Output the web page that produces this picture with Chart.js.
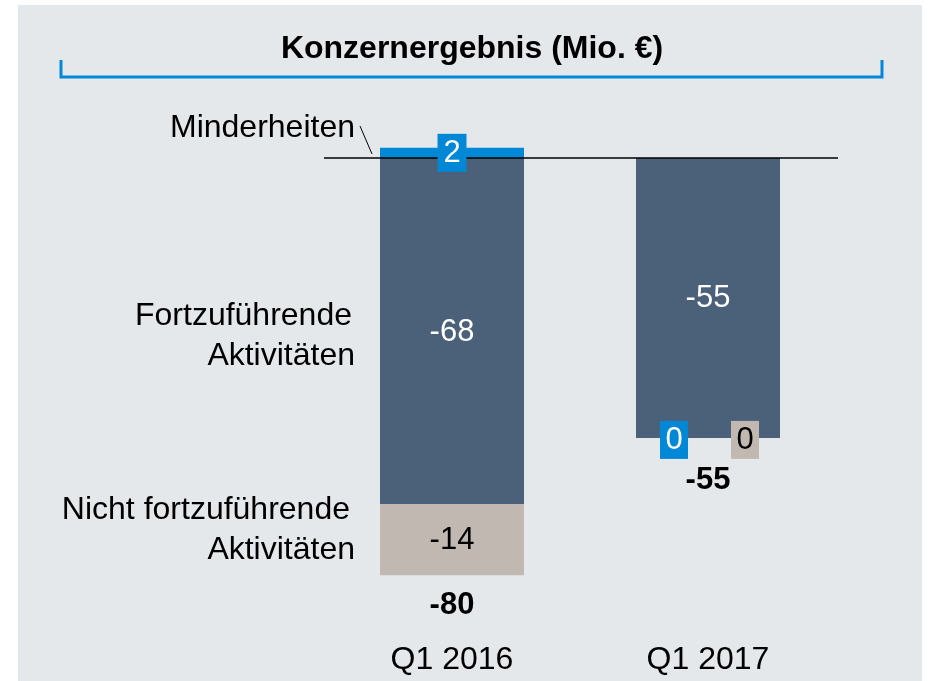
<!DOCTYPE html>
<html lang="de">
<head>
    <meta charset="UTF-8">
    <title>Konzernergebnis</title>
    <script src="https://cdn.jsdelivr.net/npm/chart.js"></script>
    <style>
        html, body { margin: 0; padding: 0; background: #ffffff; }
        #wrap { position: absolute; left: 0; top: 0; width: 930px; height: 681px; }
    </style>
</head>
<body>
    <div id="wrap"><canvas id="resultChart" width="930" height="681"></canvas></div>

    <script>
        const categories = ['Q1 2016', 'Q1 2017'];
        const minderheiten = [2, 0];
        const fortgefuehrt = [-68, -55];
        const nichtFortgefuehrt = [-14, 0];
        const totals = [-80, -55];

        const FONT = '"Liberation Sans", Arial, sans-serif';
        const colors = ['#0088d6', '#4b6079', '#c1b9b1'];

        // Labels, title and bracket drawn on top of the bars
        const annotations = {
            id: 'annotations',
            beforeDraw(chart) {
                const ctx = chart.ctx;
                ctx.save();
                ctx.fillStyle = '#ffffff';
                ctx.fillRect(0, 0, chart.width, chart.height);
                ctx.fillStyle = '#e4e8eb';
                ctx.fillRect(18, 5, 904, 676);
                ctx.restore();
            },
            afterDatasetsDraw(chart) {
                const ctx = chart.ctx;
                const y = chart.scales.y;
                const area = chart.chartArea;
                const zero = y.getPixelForValue(0);
                ctx.save();

                // title + bracket
                ctx.fillStyle = '#000';
                ctx.font = 'bold 32px ' + FONT;
                ctx.textAlign = 'center';
                ctx.textBaseline = 'middle';
                ctx.fillText('Konzernergebnis (Mio. €)', 472, 49);
                ctx.strokeStyle = '#0088d6';
                ctx.lineWidth = 3;
                ctx.beginPath();
                ctx.moveTo(61, 60);
                ctx.lineTo(61, 77);
                ctx.lineTo(882, 77);
                ctx.lineTo(882, 60);
                ctx.stroke();

                // zero line
                ctx.strokeStyle = '#000';
                ctx.lineWidth = 1.5;
                ctx.beginPath();
                ctx.moveTo(area.left, zero);
                ctx.lineTo(area.right + 2, zero);
                ctx.stroke();

                // left legend labels
                ctx.font = '32px ' + FONT;
                ctx.textAlign = 'right';
                ctx.fillText('Minderheiten', 355, 128);
                ctx.fillText('Fortzuführende', 352, 316);
                ctx.fillText('Aktivitäten', 355, 356);
                ctx.fillText('Nicht fortzuführende', 350, 510);
                ctx.fillText('Aktivitäten', 355, 550);
                ctx.lineWidth = 1;
                ctx.beginPath();
                ctx.moveTo(360, 126);
                ctx.lineTo(372, 154);
                ctx.stroke();

                // value labels
                const metas = chart.data.datasets.map((d, i) => chart.getDatasetMeta(i));
                const zeroOffsets = [-34, 0, 37];
                categories.forEach((cat, i) => {
                    const main = metas[1].data[i];
                    let lowest = Math.max(...metas.map(m => Math.max(m.data[i].y, m.data[i].base)));
                    let hasZeroBox = false;
                    chart.data.datasets.forEach((ds, d) => {
                        const v = ds.data[i];
                        const el = metas[d].data[i];
                        let cx = el.x, cy = (el.y + el.base) / 2, boxed = d === 0;
                        if (v === 0) {
                            cx = main.x + zeroOffsets[d];
                            cy = Math.max(main.y, main.base) + 2;
                            boxed = true;
                            hasZeroBox = true;
                        }
                        ctx.font = '31px ' + FONT;
                        ctx.textAlign = 'center';
                        if (boxed) {
                            ctx.fillStyle = colors[d];
                            const w = v === 0 ? 28 : 29;
                            ctx.fillRect(cx - w / 2, cy - 19, w, 38);
                        }
                        ctx.fillStyle = d === 2 ? '#000' : '#fff';
                        ctx.fillText(String(v), cx, cy + 1);
                    });
                    ctx.fillStyle = '#000';
                    ctx.font = 'bold 31px ' + FONT;
                    ctx.fillText(String(totals[i]), main.x, lowest + (hasZeroBox ? 43 : 30));
                    ctx.font = '32px ' + FONT;
                    ctx.fillText(cat, main.x, 660);
                });
                ctx.restore();
            }
        };

        new Chart(document.getElementById('resultChart'), {
            type: 'bar',
            data: {
                labels: categories,
                datasets: [
                    { label: 'Minderheiten', data: minderheiten, backgroundColor: colors[0] },
                    { label: 'Fortzuführende Aktivitäten', data: fortgefuehrt, backgroundColor: colors[1] },
                    { label: 'Nicht fortzuführende Aktivitäten', data: nichtFortgefuehrt, backgroundColor: colors[2] }
                ]
            },
            options: {
                responsive: false,
                animation: false,
                events: [],
                layout: { padding: { left: 324, right: 94, top: 107, bottom: 14 } },
                datasets: { bar: { barPercentage: 0.5625, categoryPercentage: 1, borderWidth: 0 } },
                scales: {
                    x: { stacked: true, display: false },
                    y: { stacked: true, display: false, min: -100, max: 10 }
                },
                plugins: { legend: { display: false }, tooltip: { enabled: false } }
            },
            plugins: [annotations]
        });
    </script>
</body>
</html>
